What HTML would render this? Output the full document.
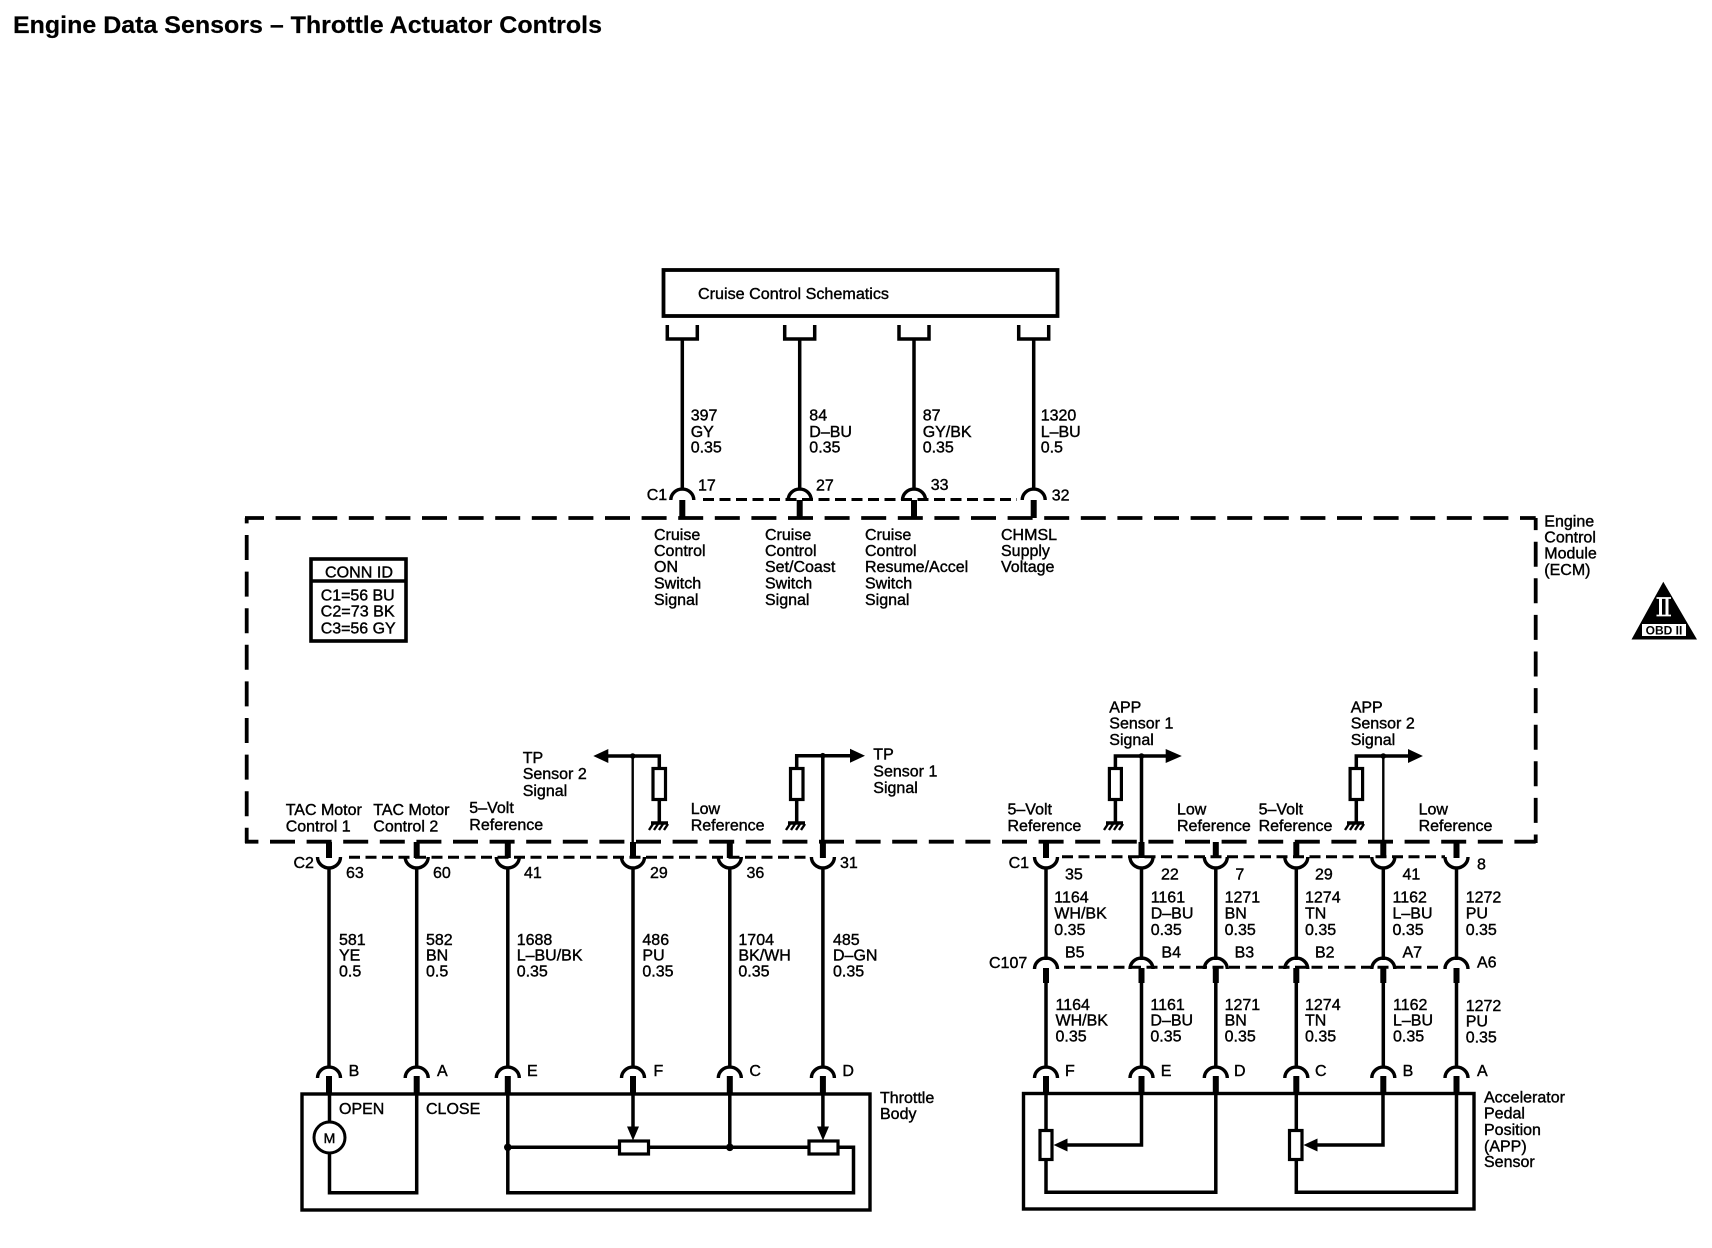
<!DOCTYPE html>
<html><head><meta charset="utf-8"><title>Engine Data Sensors – Throttle Actuator Controls</title>
<style>
html,body{margin:0;padding:0;background:#fff}
svg{display:block}
text{font-family:"Liberation Sans",sans-serif;font-size:16px;fill:#000;stroke:#000;stroke-width:.4}
.l{stroke:#000;fill:none;stroke-width:3.5}
.t{stroke:#000;fill:none;stroke-width:2.4}
.s{stroke:#000;fill:none;stroke-width:6}
.sd{stroke:#000;fill:none;stroke-width:3;stroke-dasharray:11 5.5}
.bd{stroke:#000;fill:none;stroke-width:3.8;stroke-dasharray:25 11.6}
.arc{stroke:#000;fill:none;stroke-width:3.4}
.r{fill:#fff;stroke:#000;stroke-width:3.2}
</style></head>
<body>
<svg width="1712" height="1248" viewBox="0 0 1712 1248" xmlns="http://www.w3.org/2000/svg">
<defs>
<path id="d" class="arc" d="M-11.5 10A11 10.5 0 0 1 11.5 10"/>
<path id="c" class="arc" d="M-11.5 0A11 10.5 0 0 0 11.5 0"/>
<path id="u" class="l" d="M-15 0V14H15V0" stroke-linejoin="miter"/>
<g id="g"><path class="l" stroke-width="3" d="M-7 0H10"/><path class="t" d="M-5 1L-9 7M0 1L-4 7M5 1L1 7M10 1L6 7"/></g>
</defs>
<text x="13" y="33" style="font-size:24px;font-weight:bold;stroke-width:.2" textLength="589" lengthAdjust="spacingAndGlyphs">Engine Data Sensors – Throttle Actuator Controls</text>

<!-- cruise box -->
<rect x="663.5" y="270" width="394" height="46" fill="#fff" stroke="#000" stroke-width="3.8"/>
<text x="698" y="299" textLength="191" lengthAdjust="spacingAndGlyphs">Cruise Control Schematics</text>
<use href="#u" x="682.3" y="325"/><use href="#u" x="799.7" y="325"/><use href="#u" x="914" y="325"/><use href="#u" x="1033.7" y="325"/>
<path class="l" d="M682.3 339V490M799.7 339V490M914 339V490M1033.7 339V490"/>
<path class="sd" d="M703 499.5H1017"/>
<use href="#d" x="682.3" y="490"/><use href="#d" x="799.7" y="490"/><use href="#d" x="914" y="490"/><use href="#d" x="1033.7" y="490"/>
<path class="s" d="M682.3 500V518M799.7 500V518M914 500V518M1033.7 500V518"/>

<!-- ECM dashed -->
<path class="bd" stroke-dashoffset="6" d="M245 518H1535.7"/>
<path class="bd" stroke-dashoffset="11.6" d="M245 841.7H1535.7"/>
<path class="bd" stroke-dashoffset="19.6" d="M246.7 518V843"/>
<path class="bd" stroke-dashoffset="12.9" d="M1535.7 518V843"/>

<!-- top labels -->
<text x="690.7" y="420.7">397</text><text x="690.7" y="437">GY</text><text x="690.7" y="452.7">0.35</text>
<text x="809.3" y="420.7">84</text><text x="809.3" y="437">D–BU</text><text x="809.3" y="452.7">0.35</text>
<text x="922.7" y="420.7">87</text><text x="922.7" y="437">GY/BK</text><text x="922.7" y="452.7">0.35</text>
<text x="1040.7" y="420.7">1320</text><text x="1040.7" y="437">L–BU</text><text x="1040.7" y="452.7">0.5</text>
<text x="646.7" y="500">C1</text><text x="698" y="490.7">17</text><text x="816" y="490.7">27</text><text x="930.7" y="490">33</text><text x="1051.7" y="500.7">32</text>
<text x="654" y="540">Cruise</text><text x="654" y="556">Control</text><text x="654" y="572">ON</text><text x="654" y="588.5">Switch</text><text x="654" y="605">Signal</text>
<text x="765" y="540">Cruise</text><text x="765" y="556">Control</text><text x="765" y="572">Set/Coast</text><text x="765" y="588.5">Switch</text><text x="765" y="605">Signal</text>
<text x="865" y="540">Cruise</text><text x="865" y="556">Control</text><text x="865" y="572">Resume/Accel</text><text x="865" y="588.5">Switch</text><text x="865" y="605">Signal</text>
<text x="1001" y="540">CHMSL</text><text x="1001" y="556">Supply</text><text x="1001" y="572">Voltage</text>
<text x="1544.3" y="526.7">Engine</text><text x="1544.3" y="542.7">Control</text><text x="1544.3" y="558.7">Module</text><text x="1544.3" y="575">(ECM)</text>

<!-- OBD -->
<path d="M1663.3 581.7L1697 639.5H1631.5Z" fill="#000"/>
<path d="M1656.5 598H1671M1656.5 615.5H1671" stroke="#fff" stroke-width="1.8" fill="none"/>
<path d="M1660.5 598V615.5M1667 598V615.5" stroke="#fff" stroke-width="3" fill="none"/>
<rect x="1642" y="624" width="44" height="12" fill="#fff"/>
<text x="1664" y="634.5" text-anchor="middle" style="font-size:12px;font-weight:bold;stroke-width:0">OBD II</text>

<!-- conn id -->
<rect x="311" y="559" width="95" height="82" fill="#fff" stroke="#000" stroke-width="3.6"/>
<path class="l" d="M311 581H406"/>
<text x="325" y="577.3" textLength="68" lengthAdjust="spacingAndGlyphs">CONN ID</text>
<text x="320.7" y="600.7" textLength="74" lengthAdjust="spacingAndGlyphs">C1=56 BU</text><text x="320.7" y="616.7" textLength="74" lengthAdjust="spacingAndGlyphs">C2=73 BK</text><text x="320.7" y="633.3" textLength="75" lengthAdjust="spacingAndGlyphs">C3=56 GY</text>

<!-- C2 connector -->
<path class="sd" d="M349 857.3H808"/>
<path class="s" d="M329 842V858M416.7 842V858M507.8 842V858M633 842V858M729.8 842V858M822.9 842V858"/>
<use href="#c" x="329" y="857"/><use href="#c" x="416.7" y="857"/><use href="#c" x="507.8" y="857"/><use href="#c" x="633" y="857"/><use href="#c" x="729.8" y="857"/><use href="#c" x="822.9" y="857"/>
<path class="l" d="M329 867V1068M416.7 867V1068M507.8 867V1068M633 867V1068M729.8 867V1068M822.9 867V1068"/>
<use href="#d" x="329" y="1068"/><use href="#d" x="416.7" y="1068"/><use href="#d" x="507.8" y="1068"/><use href="#d" x="633" y="1068"/><use href="#d" x="729.8" y="1068"/><use href="#d" x="822.9" y="1068"/>
<path class="s" d="M329 1076V1094M416.7 1076V1094M507.8 1076V1094M633 1076V1094M729.8 1076V1094M822.9 1076V1094"/>
<text x="293.5" y="868">C2</text><text x="346" y="878">63</text><text x="433" y="878">60</text><text x="524" y="878">41</text><text x="650" y="878">29</text><text x="746.5" y="878">36</text><text x="840" y="868">31</text>
<text x="339" y="945">581</text><text x="339" y="960.7">YE</text><text x="339" y="976.7">0.5</text>
<text x="426" y="945">582</text><text x="426" y="960.7">BN</text><text x="426" y="976.7">0.5</text>
<text x="516.7" y="945">1688</text><text x="516.7" y="960.7">L–BU/BK</text><text x="516.7" y="976.7">0.35</text>
<text x="642.4" y="945">486</text><text x="642.4" y="960.7">PU</text><text x="642.4" y="976.7">0.35</text>
<text x="738.4" y="945">1704</text><text x="738.4" y="960.7">BK/WH</text><text x="738.4" y="976.7">0.35</text>
<text x="833" y="945">485</text><text x="833" y="960.7">D–GN</text><text x="833" y="976.7">0.35</text>
<text x="348.6" y="1076">B</text><text x="437" y="1076">A</text><text x="527" y="1076">E</text><text x="653.5" y="1076">F</text><text x="749.4" y="1076">C</text><text x="842.4" y="1076">D</text>

<!-- throttle body -->
<rect x="302" y="1094" width="568" height="116" fill="none" stroke="#000" stroke-width="3.4"/>
<text x="880" y="1103">Throttle</text><text x="880" y="1119">Body</text>
<text x="339" y="1114">OPEN</text><text x="426" y="1114">CLOSE</text>
<path class="l" d="M329.5 1094V1122M329.5 1153V1192.7H416.7V1094"/>
<circle cx="329.5" cy="1137.5" r="15.5" fill="#fff" stroke="#000" stroke-width="3"/>
<text x="329.5" y="1143" text-anchor="middle" style="font-size:14px">M</text>
<path class="l" d="M507.8 1094V1192.7H853.5V1147.3H507.8M729.8 1094V1147.3M633 1094V1128M822.9 1094V1128"/>
<circle cx="507.8" cy="1147.3" r="3.8"/><circle cx="729.8" cy="1147.3" r="3.8"/>
<rect x="619.5" y="1141" width="29" height="13" class="r"/><rect x="809" y="1141" width="29" height="13" class="r"/>
<path d="M627 1126.5H639L633 1140.5Z"/><path d="M817 1126.5H829L823 1140.5Z"/>

<!-- TP sensor 2 / 1 inside ECM -->
<path d="M593.3 756L608.3 749V763Z"/>
<path class="l" d="M606 756H659.3V767"/>
<path class="t" stroke-width="2.8" d="M632.7 756V842"/>
<circle cx="632.7" cy="756" r="2.8"/>
<rect x="653" y="768.5" width="12.5" height="31" class="r"/>
<path class="l" d="M659.3 800V823"/><use href="#g" x="658" y="823"/>
<text x="522.7" y="763">TP</text><text x="522.7" y="779">Sensor 2</text><text x="522.7" y="796">Signal</text>
<path d="M865 755.7L850 748.7V762.7Z"/>
<path class="l" d="M852 755.7H796.7V768M796.7 800V823M822.8 755.7V842"/>
<circle cx="822.8" cy="755.7" r="2.8"/>
<rect x="790.5" y="768.5" width="12.5" height="31" class="r"/><use href="#g" x="795" y="823"/>
<text x="873.3" y="759.5">TP</text><text x="873.3" y="776.7">Sensor 1</text><text x="873.3" y="793">Signal</text>
<text x="285.7" y="815">TAC Motor</text><text x="285.7" y="831.7">Control 1</text>
<text x="373.3" y="815">TAC Motor</text><text x="373.3" y="831.7">Control 2</text>
<text x="469.3" y="813">5–Volt</text><text x="469.3" y="830">Reference</text>
<text x="690.7" y="814">Low</text><text x="690.7" y="830.7">Reference</text>

<!-- APP inside ECM -->
<path d="M1181.8 756L1165.7 749V763Z"/>
<path class="l" d="M1168 756H1115.4V768M1115.4 800V823M1141.5 756V842"/>
<circle cx="1141.5" cy="756" r="2.8"/>
<rect x="1109.4" y="768.5" width="12" height="31" class="r"/><use href="#g" x="1113" y="823"/>
<text x="1109.3" y="712.7">APP</text><text x="1109.3" y="728.3">Sensor 1</text><text x="1109.3" y="745">Signal</text>
<path d="M1422.9 756L1408 749V763Z"/>
<path class="l" d="M1410 756H1356.3V768M1356.3 800V823"/>
<path class="t" d="M1383.3 756V842"/>
<circle cx="1383.3" cy="756" r="2.8"/>
<rect x="1350.1" y="768.5" width="12.5" height="31" class="r"/><use href="#g" x="1354" y="823"/>
<text x="1350.7" y="712.7">APP</text><text x="1350.7" y="728.3">Sensor 2</text><text x="1350.7" y="745">Signal</text>
<text x="1007.5" y="814.3">5–Volt</text><text x="1007.5" y="831">Reference</text>
<text x="1177" y="814.3">Low</text><text x="1177" y="831">Reference</text>
<text x="1258.6" y="814.3">5–Volt</text><text x="1258.6" y="831">Reference</text>
<text x="1418.6" y="814.3">Low</text><text x="1418.6" y="831">Reference</text>

<!-- C1 lower -->
<path class="sd" d="M1062 856.7H1445"/>
<path class="s" d="M1046 842V858M1141.5 842V858M1215.8 842V858M1296.3 842V858M1383.3 842V858M1456.5 842V858"/>
<use href="#c" x="1046" y="857"/><use href="#c" x="1141.5" y="857"/><use href="#c" x="1215.8" y="857"/><use href="#c" x="1296.3" y="857"/><use href="#c" x="1383.3" y="857"/><use href="#c" x="1456.5" y="857"/>
<path class="l" d="M1046 867V960M1141.5 867V960M1215.8 867V960M1296.3 867V960M1383.3 867V960M1456.5 867V960"/>
<path class="sd" d="M1064 967.3H1445"/>
<use href="#d" x="1046" y="959"/><use href="#d" x="1141.5" y="959"/><use href="#d" x="1215.8" y="959"/><use href="#d" x="1296.3" y="959"/><use href="#d" x="1383.3" y="959"/><use href="#d" x="1456.5" y="959"/>
<path class="s" d="M1046 968V983M1141.5 968V983M1215.8 968V983M1296.3 968V983M1383.3 968V983M1456.5 968V983"/>
<path class="l" d="M1046 983V1068M1141.5 983V1068M1215.8 983V1068M1296.3 983V1068M1383.3 983V1068M1456.5 983V1068"/>
<use href="#d" x="1046" y="1068"/><use href="#d" x="1141.5" y="1068"/><use href="#d" x="1215.8" y="1068"/><use href="#d" x="1296.3" y="1068"/><use href="#d" x="1383.3" y="1068"/><use href="#d" x="1456.5" y="1068"/>
<path class="s" d="M1046 1076V1094M1141.5 1076V1094M1215.8 1076V1094M1296.3 1076V1094M1383.3 1076V1094M1456.5 1076V1094"/>
<text x="1008.6" y="868">C1</text><text x="1065" y="879.3">35</text><text x="1161" y="879.3">22</text><text x="1235.4" y="879.3">7</text><text x="1315" y="879.3">29</text><text x="1402.5" y="879.3">41</text><text x="1477" y="869.3">8</text>
<text x="1054.3" y="902.7">1164</text><text x="1054.3" y="918.7">WH/BK</text><text x="1054.3" y="935">0.35</text>
<text x="1150.7" y="902.7">1161</text><text x="1150.7" y="918.7">D–BU</text><text x="1150.7" y="935">0.35</text>
<text x="1224.6" y="902.7">1271</text><text x="1224.6" y="918.7">BN</text><text x="1224.6" y="935">0.35</text>
<text x="1305" y="902.7">1274</text><text x="1305" y="918.7">TN</text><text x="1305" y="935">0.35</text>
<text x="1392.5" y="902.7">1162</text><text x="1392.5" y="918.7">L–BU</text><text x="1392.5" y="935">0.35</text>
<text x="1465.7" y="902.7">1272</text><text x="1465.7" y="918.7">PU</text><text x="1465.7" y="935">0.35</text>
<text x="989" y="968">C107</text><text x="1065" y="957.7">B5</text><text x="1161.4" y="957.7">B4</text><text x="1234.6" y="957.7">B3</text><text x="1315" y="957.7">B2</text><text x="1402.5" y="957.7">A7</text><text x="1477" y="967.3">A6</text>
<text x="1055.5" y="1010">1164</text><text x="1055.5" y="1025.7">WH/BK</text><text x="1055.5" y="1041.7">0.35</text>
<text x="1150.4" y="1010">1161</text><text x="1150.4" y="1025.7">D–BU</text><text x="1150.4" y="1041.7">0.35</text>
<text x="1224.6" y="1010">1271</text><text x="1224.6" y="1025.7">BN</text><text x="1224.6" y="1041.7">0.35</text>
<text x="1305" y="1010">1274</text><text x="1305" y="1025.7">TN</text><text x="1305" y="1041.7">0.35</text>
<text x="1393" y="1010">1162</text><text x="1393" y="1025.7">L–BU</text><text x="1393" y="1041.7">0.35</text>
<text x="1465.7" y="1011">1272</text><text x="1465.7" y="1026.7">PU</text><text x="1465.7" y="1042.7">0.35</text>
<text x="1065" y="1076">F</text><text x="1160.7" y="1076">E</text><text x="1234" y="1076">D</text><text x="1315" y="1076">C</text><text x="1402.6" y="1076">B</text><text x="1477" y="1076">A</text>

<!-- APP sensor -->
<rect x="1023.5" y="1093.5" width="450.5" height="115.5" fill="none" stroke="#000" stroke-width="3.4"/>
<text x="1484" y="1102.7">Accelerator</text><text x="1484" y="1118.5">Pedal</text><text x="1484" y="1135">Position</text><text x="1484" y="1151.5">(APP)</text><text x="1484" y="1167">Sensor</text>
<path class="l" d="M1046 1094V1130M1046 1160V1192.3H1215.8V1094M1141.5 1094V1145H1066M1296.3 1094V1130M1296.3 1160V1192.3H1456.5V1094M1383 1094V1145H1316"/>
<rect x="1040" y="1130.5" width="12" height="29" class="r"/><rect x="1289.5" y="1130.5" width="12.5" height="29" class="r"/>
<path d="M1053.6 1145L1067.5 1138.5V1151.5Z"/><path d="M1303.5 1145L1317.5 1138.5V1151.5Z"/>
</svg>
</body></html>
